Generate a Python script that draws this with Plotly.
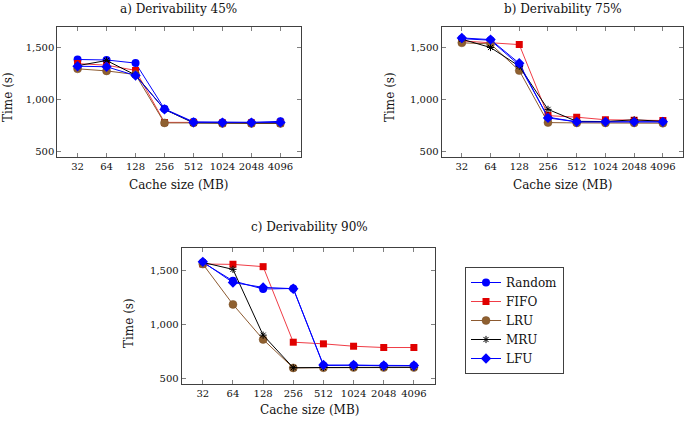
import plotly.graph_objects as go

cache_sizes = ["32", "64", "128", "256", "512", "1024", "2048", "4096"]
y_ticks = [500, 1000, 1500]

# a) Derivability 45%
a_random = [1385, 1380, 1350, 910, 785, 780, 780, 790]
a_fifo   = [1345, 1330, 1280, 780, 780, 775, 775, 775]
a_lru    = [1295, 1275, 1240, 775, 775, 770, 770, 770]
a_mru    = [1325, 1375, 1235, 905, 775, 775, 775, 775]
a_lfu    = [1320, 1315, 1230, 905, 780, 778, 778, 780]

# b) Derivability 75%
b_random = [1585, 1570, 1330, 830, 785, 785, 785, 785]
b_fifo   = [1563, 1547, 1528, 845, 830, 805, 800, 798]
b_lru    = [1545, 1535, 1278, 778, 775, 775, 775, 772]
b_mru    = [1580, 1500, 1320, 905, 790, 788, 805, 790]
b_lfu    = [1592, 1576, 1348, 823, 785, 785, 785, 785]

# c) Derivability 90%
c_random = [1570, 1400, 1325, 1330, 620, 623, 618, 618]
c_fifo   = [1555, 1552, 1531, 835, 820, 798, 786, 786]
c_lru    = [1555, 1183, 860, 598, 600, 602, 602, 602]
c_mru    = [1570, 1506, 900, 600, 602, 604, 604, 604]
c_lfu    = [1575, 1385, 1340, 1328, 625, 625, 620, 620]

series_names = ["Random", "FIFO", "LRU", "MRU", "LFU"]
panels = [
    [a_random, a_fifo, a_lru, a_mru, a_lfu],
    [b_random, b_fifo, b_lru, b_mru, b_lfu],
    [c_random, c_fifo, c_lru, c_mru, c_lfu],
]
panel_titles = ["a) Derivability 45%", "b) Derivability 75%", "c) Derivability 90%"]

W, H = 685, 421
FONT = "DejaVu Serif"
FS = 12
TFS = 10

styles = {
    "Random": dict(line=dict(color="#0000ff", width=1),
                   marker=dict(symbol="circle", size=8, color="#0000ff", line=dict(color="#0000ff", width=0))),
    "FIFO": dict(line=dict(color="#f03c46", width=1),
                 marker=dict(symbol="square", size=7, color="#e00000", line=dict(color="#e00000", width=0))),
    "LRU": dict(line=dict(color="#8c5a30", width=1),
                marker=dict(symbol="circle", size=8, color="#8f6030", line=dict(color="#7a5028", width=0.5))),
    "MRU": dict(line=dict(color="#000000", width=1),
                marker=dict(symbol="asterisk-open", size=6, color="#000000", line=dict(color="#000000", width=1))),
    "LFU": dict(line=dict(color="#0000ff", width=1),
                marker=dict(symbol="diamond", size=8, color="#0000ff", line=dict(color="#0000ff", width=0))),
}

# domains in pixels: (left, right, top, bottom)
boxes = [(57.3, 300.7, 26.7, 156.7), (441.7, 683.0, 26.7, 156.7), (181.7, 435.0, 248.3, 384.0)]

fig = go.Figure()
for i, (data, box) in enumerate(zip(panels, boxes)):
    sfx = "" if i == 0 else str(i + 1)
    for name, vals in zip(series_names, data):
        st = styles[name]
        fig.add_trace(go.Scatter(
            x=cache_sizes, y=vals, mode="lines+markers", name=name,
            line=st["line"], marker=st["marker"],
            xaxis="x" + sfx, yaxis="y" + sfx,
            showlegend=(i == 2),
        ))
    l, r, t, b = box
    axis_common = dict(showline=True, linecolor="#404040", linewidth=1, mirror="allticks",
                       ticks="inside", ticklen=4, tickcolor="#808080", showgrid=False, zeroline=False,
                       tickfont=dict(family=FONT, size=TFS, color="#111111"))
    fig.update_layout(**{
        "xaxis" + sfx: dict(domain=[l / W, r / W], anchor="y" + sfx, type="category",
                            categoryorder="array", categoryarray=cache_sizes,
                            range=[-0.7, 7.7], tickangle=0, **axis_common),
        "yaxis" + sfx: dict(domain=[1 - b / H, 1 - t / H], anchor="x" + sfx,
                            range=[450, 1700], tickvals=y_ticks, tickformat=",", **axis_common),
    })

annots = []
title_pos = [(178, 9), (562.7, 9), (309, 227)]
ylab_pos = [(8, 97), (390, 97), (129, 323)]
xlab_pos = [(178, 185), (562.7, 185), (309, 410)]
for txt, (x, y) in zip(panel_titles, title_pos):
    annots.append(dict(text=txt, x=x / W, y=1 - y / H, xref="paper", yref="paper",
                       showarrow=False, xanchor="center", yanchor="middle",
                       font=dict(family=FONT, size=FS, color="#111111")))
for (x, y) in ylab_pos:
    annots.append(dict(text="Time (s)", x=x / W, y=1 - y / H, xref="paper", yref="paper",
                       showarrow=False, xanchor="center", yanchor="middle", textangle=-90,
                       font=dict(family=FONT, size=FS, color="#111111")))
for (x, y) in xlab_pos:
    annots.append(dict(text="Cache size (MB)", x=x / W, y=1 - y / H, xref="paper", yref="paper",
                       showarrow=False, xanchor="center", yanchor="middle",
                       font=dict(family=FONT, size=FS, color="#111111")))

fig.update_layout(
    width=W, height=H,
    margin=dict(l=0, r=0, t=0, b=0),
    paper_bgcolor="white", plot_bgcolor="white",
    annotations=annots,
    legend=dict(x=465 / W, y=1 - 267 / H, xanchor="left", yanchor="top",
                bordercolor="#404040", borderwidth=1, bgcolor="white",
                font=dict(family=FONT, size=12, color="#111111"),
                itemwidth=30, tracegroupgap=0),
    showlegend=True,
)

# remove the browser's default 8px body margin so the figure sits at the page origin
fig.write_html("out.html", config={"displayModeBar": False},
               post_script="document.body.style.margin='0';")
